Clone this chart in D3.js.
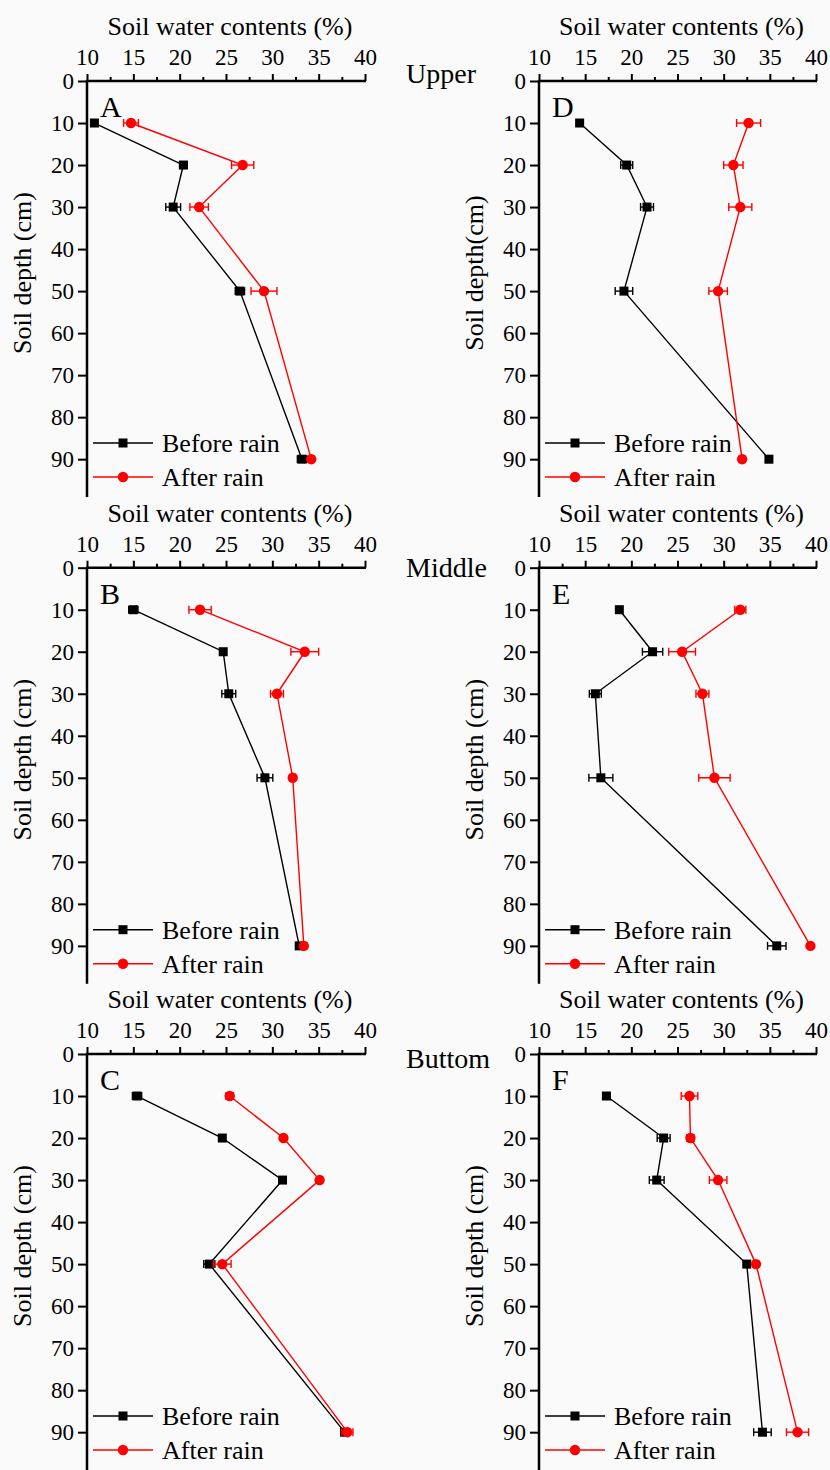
<!DOCTYPE html>
<html><head><meta charset="utf-8">
<script src="https://cdn.jsdelivr.net/npm/d3@7"></script>
<style>body{margin:0;background:#fafafa}</style>
</head><body><svg id="c" width="830" height="1470"></svg>
<script>
// ---------- data ----------
const depths = [10, 20, 30, 50, 90];
const xTicks = [10, 15, 20, 25, 30, 35, 40];
const xMinorTicks = [12.5, 17.5, 22.5, 27.5, 32.5, 37.5];
const yTicks = [0, 10, 20, 30, 40, 50, 60, 70, 80, 90];
const panelLetters = ['A', 'B', 'C', 'D', 'E', 'F'];
const positionLabels = ['Upper', 'Middle', 'Buttom'];
const seriesNames = ['Before rain', 'After rain'];
const xTitle = 'Soil water contents (%)';
const yTitles = ['Soil depth (cm)', 'Soil depth (cm)', 'Soil depth (cm)', 'Soil depth(cm)', 'Soil depth (cm)', 'Soil depth (cm)'];

const A_before = [10.8, 20.4, 19.3, 26.5, 33.2];
const A_beforeErr = [0.2, 0.4, 0.8, 0.5, 0.5];
const A_after = [14.75, 26.8, 22.1, 29.1, 34.2];
const A_afterErr = [0.8, 1.2, 1.0, 1.4, 0.3];

const B_before = [15.0, 24.7, 25.3, 29.2, 32.9];
const B_beforeErr = [0.5, 0.3, 0.75, 0.85, 0.3];
const B_after = [22.2, 33.5, 30.5, 32.2, 33.4];
const B_afterErr = [1.2, 1.5, 0.7, 0.3, 0.3];

const C_before = [15.4, 24.6, 31.1, 23.2, 37.8];
const C_beforeErr = [0.5, 0.3, 0.3, 0.6, 0.3];
const C_after = [25.4, 31.2, 35.1, 24.6, 38.1];
const C_afterErr = [0.4, 0.3, 0.3, 0.95, 0.6];

const D_before = [14.4, 19.5, 21.7, 19.2, 34.9];
const D_beforeErr = [0.2, 0.65, 0.7, 0.95, 0.2];
const D_after = [32.7, 31.05, 31.8, 29.4, 32.0];
const D_afterErr = [1.3, 1.05, 1.25, 1.0, 0.3];

const E_before = [18.7, 22.3, 16.1, 16.7, 35.75];
const E_beforeErr = [0.2, 1.1, 0.65, 1.3, 1.0];
const E_after = [31.8, 25.5, 27.7, 29.0, 39.4];
const E_afterErr = [0.6, 1.45, 0.7, 1.7, 0.2];

const F_before = [17.3, 23.5, 22.75, 32.5, 34.2];
const F_beforeErr = [0.2, 0.7, 0.8, 0.3, 0.95];
const F_after = [26.3, 26.4, 29.4, 33.5, 38.0];
const F_afterErr = [0.9, 0.4, 0.95, 0.3, 1.2];

const panelData = [
  [A_before, A_beforeErr, A_after, A_afterErr],
  [B_before, B_beforeErr, B_after, B_afterErr],
  [C_before, C_beforeErr, C_after, C_afterErr],
  [D_before, D_beforeErr, D_after, D_afterErr],
  [E_before, E_beforeErr, E_after, E_afterErr],
  [F_before, F_beforeErr, F_after, F_afterErr]
];

// ---------- layout ----------
const FONT = "'Liberation Serif','Times New Roman',serif";
const colX = [87, 539], colW = [278, 277];
const rowY = [81, 567.7, 1054];
const plotH = 416;
const colors = ['#000000', '#ff0000'];
const labelDy = [2, 9, 14];

const svg = d3.select('#c');
svg.append('rect').attr('width', 830).attr('height', 1470).attr('fill', '#fafafa');

function marker(g, type, cx, cy, color) {
  if (type === 0) {
    g.append('rect').attr('x', cx - 4.5).attr('y', cy - 4.5).attr('width', 9).attr('height', 9).attr('fill', color);
  } else {
    g.append('circle').attr('cx', cx).attr('cy', cy).attr('r', 5.2).attr('fill', color);
  }
}

panelData.forEach((pd, i) => {
  const col = Math.floor(i / 3), row = i % 3;
  const x0 = colX[col], y0 = rowY[row];
  const x = d3.scaleLinear().domain([10, 40]).range([x0, x0 + colW[col]]);
  const y = d3.scaleLinear().domain([0, 99]).range([y0, y0 + plotH]);
  const g = svg.append('g');

  // x axis (top)
  const xa = g.append('g').attr('transform', `translate(0,${y0})`)
    .call(d3.axisTop(x).tickValues(xTicks).tickSize(7).tickPadding(9).tickSizeOuter(0));
  g.append('g').attr('transform', `translate(0,${y0})`)
    .call(d3.axisTop(x).tickValues(xMinorTicks).tickSize(4).tickFormat('').tickSizeOuter(0))
    .call(s => s.select('.domain').remove())
    .selectAll('line').attr('stroke-width', 2);
  xa.select('.domain').remove();
  xa.selectAll('line').attr('stroke-width', 2);
  xa.selectAll('text').attr('font-family', FONT).attr('font-size', 23).attr('fill', '#000');

  // y axis (left)
  const ya = g.append('g').attr('transform', `translate(${x0},0)`)
    .call(d3.axisLeft(y).tickValues(yTicks).tickSize(9).tickPadding(4).tickSizeOuter(0));
  ya.select('.domain').remove();
  ya.selectAll('line').attr('stroke-width', 2);
  ya.selectAll('text').attr('font-family', FONT).attr('font-size', 23).attr('fill', '#000');

  // axis lines
  g.append('line').attr('x1', x(10) - 1).attr('x2', x(40) + 1).attr('y1', y0).attr('y2', y0)
    .attr('stroke', '#000').attr('stroke-width', 2.5);
  g.append('line').attr('x1', x0).attr('x2', x0).attr('y1', y0 - 1).attr('y2', y(99))
    .attr('stroke', '#000').attr('stroke-width', 2.5);

  // titles
  g.append('text').attr('x', (x(10) + x(40)) / 2 + 4).attr('y', y0 - 46)
    .attr('text-anchor', 'middle').attr('font-family', FONT).attr('font-size', 26).text(xTitle);
  g.append('text').attr('transform', `translate(${x0 - 56},${y0 + 192}) rotate(-90)`)
    .attr('text-anchor', 'middle').attr('font-family', FONT).attr('font-size', 26).text(yTitles[i]);
  g.append('text').attr('x', x0 + 13).attr('y', y0 + 36)
    .attr('font-family', FONT).attr('font-size', 30).text(panelLetters[i]);

  // series
  [0, 1].forEach(s => {
    const vals = pd[s * 2], errs = pd[s * 2 + 1];
    const pts = depths.map((d, k) => ({ d, v: vals[k], e: errs[k] }));
    const sg = g.append('g');
    sg.append('path').datum(pts)
      .attr('d', d3.line().x(p => x(p.v)).y(p => y(p.d)))
      .attr('fill', 'none').attr('stroke', colors[s]).attr('stroke-width', 1.4);
    pts.forEach(p => {
      const yy = y(p.d), xl = x(p.v - p.e), xr = x(p.v + p.e);
      sg.append('line').attr('x1', xl).attr('x2', xr).attr('y1', yy).attr('y2', yy)
        .attr('stroke', colors[s]).attr('stroke-width', 1.4);
      [xl, xr].forEach(xe => sg.append('line').attr('x1', xe).attr('x2', xe)
        .attr('y1', yy - 4).attr('y2', yy + 4).attr('stroke', colors[s]).attr('stroke-width', 1.4));
      marker(sg, s, x(p.v), yy, colors[s]);
    });
  });

  // legend
  [0, 1].forEach(s => {
    const ly = y0 + 362 + s * 34;
    g.append('line').attr('x1', x0 + 6).attr('x2', x0 + 66).attr('y1', ly).attr('y2', ly)
      .attr('stroke', colors[s]).attr('stroke-width', 1.4);
    marker(g, s, x0 + 36, ly, colors[s]);
    g.append('text').attr('x', x0 + 75).attr('y', ly + 9)
      .attr('font-family', FONT).attr('font-size', 26).text(seriesNames[s]);
  });
});

// position labels
positionLabels.forEach((t, r) => {
  svg.append('text').attr('x', 406).attr('y', rowY[r] + labelDy[r])
    .attr('font-family', FONT).attr('font-size', 28).text(t);
});
</script>
</body></html>
